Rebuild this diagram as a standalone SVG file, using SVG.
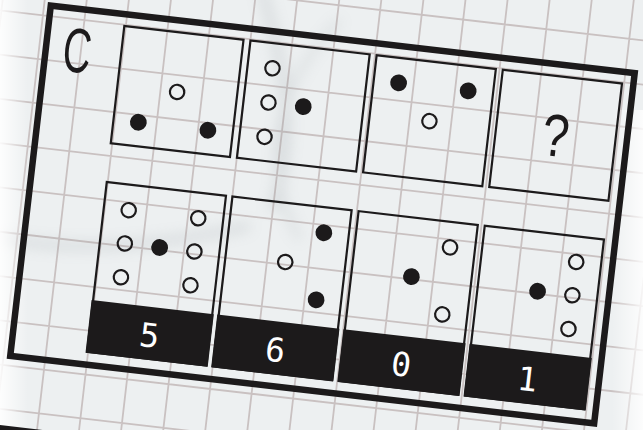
<svg xmlns="http://www.w3.org/2000/svg" width="643" height="430" viewBox="0 0 643 430">
  <defs>
    <style>
      .grid { stroke: #c9c1c1; stroke-width: 1.8; fill: none; }
      .frame { fill: none; stroke: #1c1a1b; stroke-width: 6.5; }
      .panel { fill: none; stroke: #1c1a1b; stroke-width: 2.2; }
      .open { fill: none; stroke: #1c1a1b; stroke-width: 2.2; }
      .dot { fill: #1c1a1b; }
      .label { fill: #1c1a1b; }
      .big { font-family: "Liberation Sans", Arial, sans-serif; fill: #1c1a1b; text-anchor: middle; }
      .num { font-family: "DejaVu Sans Mono", "Liberation Mono", monospace; font-size: 33px; fill: #ffffff; text-anchor: middle; }
    </style>
    <linearGradient id="fadeL" x1="0" y1="0" x2="1" y2="0">
      <stop offset="0" stop-color="#ffffff" stop-opacity="0.9"/>
      <stop offset="1" stop-color="#ffffff" stop-opacity="0"/>
    </linearGradient>
    <linearGradient id="fadeR" x1="0" y1="0" x2="1" y2="0">
      <stop offset="0" stop-color="#ffffff" stop-opacity="0"/>
      <stop offset="1" stop-color="#ffffff" stop-opacity="0.85"/>
    </linearGradient>
    <filter id="blur" x="-50%" y="-50%" width="200%" height="200%">
      <feGaussianBlur stdDeviation="7"/>
    </filter>
  </defs>

  <rect x="0" y="0" width="643" height="430" fill="#edf0f1"/>

  <g id="paper" transform="rotate(6.6 322.5 214.25)">
    <path class="grid" d="M-19.9 -60V500 M21.9 -60V500 M63.7 -60V500 M105.5 -60V500 M147.3 -60V500 M189.1 -60V500 M230.9 -60V500 M272.7 -60V500 M314.5 -60V500 M356.3 -60V500 M398.1 -60V500 M439.9 -60V500 M481.7 -60V500 M523.5 -60V500 M565.3 -60V500 M607.1 -60V500 M648.9 -60V500 M690.7 -60V500
      M-60 -39.3H720 M-60 4.7H720 M-60 48.7H720 M-60 92.7H720 M-60 136.7H720 M-60 180.7H720 M-60 224.7H720 M-60 268.7H720 M-60 312.7H720 M-60 356.7H720 M-60 400.7H720 M-60 444.7H720 M-60 488.7H720"/>
  </g>

  <g id="smudges" filter="url(#blur)" fill="none" stroke="#8f979c" opacity="0.22">
    <path d="M262 -10 C 282 60, 300 130, 272 210" stroke-width="10"/>
    <path d="M340 20 C 290 70, 250 150, 300 240" stroke-width="6"/>
    <path d="M-10 236 C 60 252, 140 250, 250 226" stroke-width="9"/>
  </g>

  <rect x="0" y="0" width="28" height="430" fill="url(#fadeL)"/>
  <rect x="612" y="110" width="31" height="320" fill="url(#fadeR)"/>

  <g id="puzzle" transform="rotate(6.6 322.5 214.25)">
    <g id="frame">
      <rect class="frame" x="28.6" y="38.2" width="587.8" height="352.6"/>
      <text class="big" font-size="63" transform="translate(60 101.5) scale(0.62 1)">C</text>
    </g>
    <g id="next-frame">
      <rect class="frame" x="28.6" y="464" width="587.8" height="300"/>
    </g>

    <g id="q1">
      <rect class="panel" x="104" y="50" width="120" height="118"/>
      <circle class="open" cx="164" cy="109.5" r="7.2"/>
      <circle class="dot" cx="129" cy="144" r="8.4"/>
      <circle class="dot" cx="199" cy="144" r="8.4"/>
    </g>
    <g id="q2">
      <rect class="panel" x="231" y="50" width="120" height="118"/>
      <circle class="open" cx="256" cy="75" r="7.2"/>
      <circle class="open" cx="256" cy="109.5" r="7.2"/>
      <circle class="dot" cx="291" cy="109.5" r="8.4"/>
      <circle class="open" cx="256" cy="144" r="7.2"/>
    </g>
    <g id="q3">
      <rect class="panel" x="358" y="50" width="120" height="118"/>
      <circle class="dot" cx="383" cy="75" r="8.4"/>
      <circle class="dot" cx="453" cy="75" r="8.4"/>
      <circle class="open" cx="418" cy="109.5" r="7.2"/>
    </g>
    <g id="q4">
      <rect class="panel" x="485" y="50" width="120" height="118"/>
      <text class="big" font-size="60" transform="translate(545 130) scale(0.8 1)">?</text>
    </g>

    <g id="a5">
      <rect class="panel" x="104.5" y="207" width="120" height="171"/>
      <circle class="open" cx="129.5" cy="232.5" r="7.2"/>
      <circle class="open" cx="129.5" cy="266" r="7.2"/>
      <circle class="open" cx="129.5" cy="300" r="7.2"/>
      <circle class="dot" cx="164.5" cy="266" r="8.4"/>
      <circle class="open" cx="199.5" cy="232.5" r="7.2"/>
      <circle class="open" cx="199.5" cy="266" r="7.2"/>
      <circle class="open" cx="199.5" cy="300" r="7.2"/>
      <rect class="label" x="103" y="326" width="123" height="53"/>
      <text class="num" x="164.5" y="366">5</text>
    </g>
    <g id="a6">
      <rect class="panel" x="231" y="207" width="120" height="171"/>
      <circle class="open" cx="291" cy="266" r="7.2"/>
      <circle class="dot" cx="326" cy="232.5" r="8.4"/>
      <circle class="dot" cx="326" cy="300" r="8.4"/>
      <rect class="label" x="229.5" y="326" width="123" height="53"/>
      <text class="num" x="291" y="366">6</text>
    </g>
    <g id="a7">
      <rect class="panel" x="358" y="207" width="120" height="171"/>
      <circle class="open" cx="453" cy="232.5" r="7.2"/>
      <circle class="dot" cx="418" cy="266" r="8.4"/>
      <circle class="open" cx="453" cy="300" r="7.2"/>
      <rect class="label" x="356.5" y="326" width="123" height="53"/>
      <text class="num" x="418" y="366">0</text>
    </g>
    <g id="a8">
      <rect class="panel" x="485" y="207" width="120" height="171"/>
      <circle class="open" cx="580" cy="232.5" r="7.2"/>
      <circle class="open" cx="580" cy="266" r="7.2"/>
      <circle class="dot" cx="545" cy="266" r="8.4"/>
      <circle class="open" cx="580" cy="300" r="7.2"/>
      <rect class="label" x="483.5" y="326" width="123" height="53"/>
      <text class="num" x="545" y="366">1</text>
    </g>
  </g>
</svg>
